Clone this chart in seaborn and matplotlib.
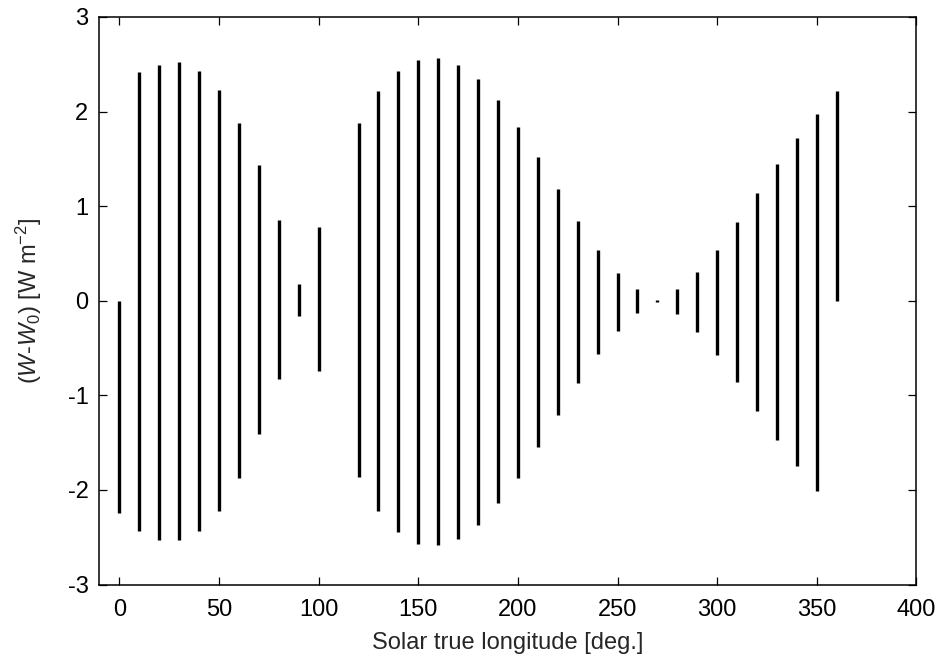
import numpy as np
import pandas as pd
import matplotlib
matplotlib.use("Agg")
import matplotlib.pyplot as plt
import seaborn as sns

# Solar true longitude of each sampled segment [deg]
longitude = [0, 10, 20, 30, 40, 50, 60, 70, 80, 90, 100,
             120, 130, 140, 150, 160, 170, 180, 190, 200, 210, 220, 230,
             240, 250, 260, 270, 280, 290, 300, 310, 320, 330, 340, 350, 360]
# Upper and lower extent of (W - W0) for each segment [W m^-2]
w_max = [0.00, 2.42, 2.49, 2.52, 2.43, 2.23, 1.88, 1.44, 0.85, 0.18, 0.78,
         1.88, 2.22, 2.43, 2.55, 2.57, 2.49, 2.34, 2.12, 1.84, 1.52, 1.18, 0.84,
         0.54, 0.29, 0.12, 0.01, 0.12, 0.30, 0.54, 0.83, 1.14, 1.45, 1.72, 1.97, 2.22]
w_min = [-2.24, -2.43, -2.53, -2.53, -2.43, -2.22, -1.87, -1.41, -0.83, -0.16, -0.74,
         -1.86, -2.22, -2.44, -2.57, -2.58, -2.52, -2.37, -2.14, -1.87, -1.55, -1.21, -0.87,
         -0.56, -0.32, -0.13, -0.01, -0.14, -0.33, -0.57, -0.86, -1.17, -1.47, -1.75, -2.01, 0.00]

x_ticks = [0, 50, 100, 150, 200, 250, 300, 350, 400]
y_ticks = [-3, -2, -1, 0, 1, 2, 3]

rows = []
for i, (lon, hi, lo) in enumerate(zip(longitude, w_max, w_min)):
    rows.append({"seg": i, "order": 0, "lon": lon, "w": hi})
    rows.append({"seg": i, "order": 1, "lon": lon, "w": lo})
df = pd.DataFrame(rows)

sns.set_theme(style="white")
plt.rcParams["font.family"] = ["Liberation Sans", "DejaVu Sans"]
plt.rcParams["mathtext.fontset"] = "custom"
plt.rcParams["mathtext.rm"] = "Liberation Sans"
plt.rcParams["mathtext.it"] = "Liberation Sans:italic"

FS = 17

fig = plt.figure(figsize=(9.43, 6.64), dpi=100)
ax = fig.add_axes([0.1055, 0.1197, 0.8663, 0.8547])

sns.lineplot(data=df, x="lon", y="w", units="seg", estimator=None, sort=False,
             color="black", linewidth=2.4, solid_capstyle="butt", ax=ax, legend=False)

ax.set_xlim(-10, 400)
ax.set_ylim(-3, 3)
ax.set_xticks(x_ticks)
ax.set_yticks(y_ticks)
ax.set_xticklabels([str(t) for t in x_ticks])
ax.set_yticklabels([str(t) for t in y_ticks])

for s in ax.spines.values():
    s.set_visible(True)
    s.set_color("black")
    s.set_linewidth(1.1)

ax.tick_params(axis="both", which="major", direction="in", length=6, width=0.9,
               colors="black", labelsize=FS, top=True, right=True,
               bottom=True, left=True)
ax.tick_params(axis="x", pad=10.5)
ax.tick_params(axis="y", pad=8)

ax.set_xlabel("Solar true longitude [deg.]", fontsize=FS, labelpad=7.5)
ax.set_ylabel(r"($\mathit{W}$-$\mathit{W}_{\mathit{0}}$) [W m$^{\mathrm{-2}}$]",
              fontsize=FS, labelpad=17)

fig.canvas.draw()
for t in ax.xaxis.get_major_ticks():
    if t.get_loc() == 0:
        t.tick1line.set_color("#b0b0b0")
        t.tick2line.set_color("#b0b0b0")
for t in ax.yaxis.get_major_ticks():
    if t.get_loc() == 0:
        t.tick1line.set_color("#b0b0b0")
        t.tick2line.set_color("#b0b0b0")

fig.savefig("out.png", dpi=100)
